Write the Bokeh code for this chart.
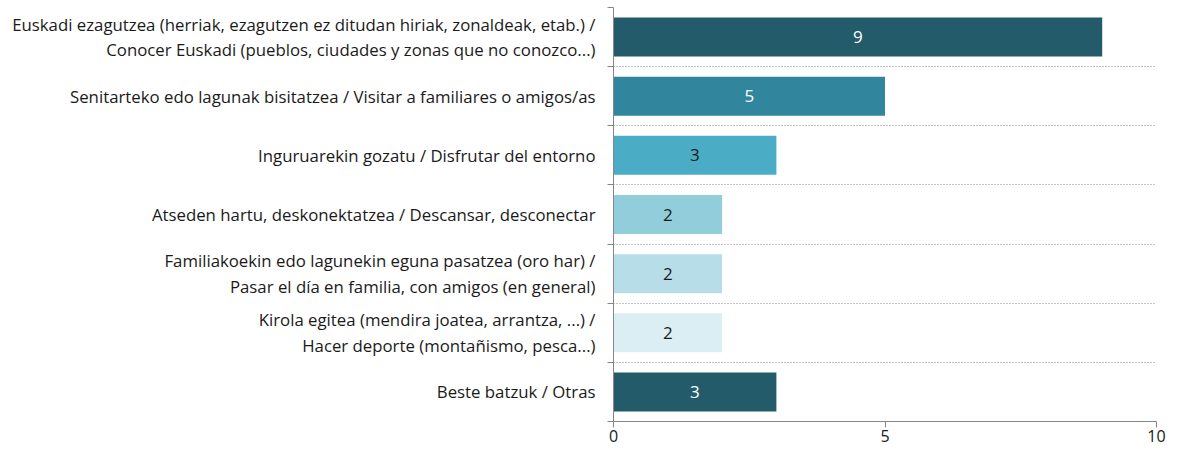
from bokeh.plotting import figure
from bokeh.models import ColumnDataSource, FixedTicker, Range1d
from bokeh.embed import file_html
from bokeh.resources import INLINE
from bokeh.core.properties import value

categories = [
    "Euskadi ezagutzea (herriak, ezagutzen ez ditudan hiriak, zonaldeak, etab.) /\nConocer Euskadi (pueblos, ciudades y zonas que no conozco...)",
    "Senitarteko edo lagunak bisitatzea / Visitar a familiares o amigos/as",
    "Inguruarekin gozatu / Disfrutar del entorno",
    "Atseden hartu, deskonektatzea / Descansar, desconectar",
    "Familiakoekin edo lagunekin eguna pasatzea (oro har) /\nPasar el día en familia, con amigos (en general)",
    "Kirola egitea (mendira joatea, arrantza, ...) /\nHacer deporte (montañismo, pesca...)",
    "Beste batzuk / Otras",
]
values = [9, 5, 3, 2, 2, 2, 3]
x_ticks = [0, 5, 10]

bar_colors = ["#235b6a", "#31859c", "#4bacc6", "#92cddc", "#b7dee8", "#daeef3", "#235b6a"]
label_colors = ["#ffffff", "#ffffff", "#1a1a1a", "#1a1a1a", "#1a1a1a", "#1a1a1a", "#ffffff"]

FONT = "Open Sans"
n = len(categories)
ypos = [n - 0.5 - i for i in range(n)]

src = ColumnDataSource(dict(
    y=ypos, v=values, half=[v / 2 for v in values],
    txt=[str(v) for v in values], color=bar_colors, tcolor=label_colors,
))

p = figure(width=1166, height=450, output_backend="svg", toolbar_location=None,
           x_range=Range1d(0, 10), y_range=Range1d(0, n),
           min_border_left=613, min_border_right=10, min_border_top=7, min_border_bottom=29)
p.outline_line_color = None
p.background_fill_color = "white"

p.hbar(y="y", right="v", left=0, height=0.66, fill_color="color", line_color=None, source=src)
p.text(x="half", y="y", text="txt", text_align="center", text_baseline="middle",
       text_color="tcolor", text_font=value(FONT), text_font_size="17px", source=src)

# y axis
yax = p.yaxis[0]
yax.ticker = FixedTicker(ticks=ypos, minor_ticks=list(range(n + 1)))
yax.major_label_overrides = {y: c for y, c in zip(ypos, categories)}
yax.major_tick_line_color = None
yax.major_tick_out = 0
yax.major_tick_in = 0
yax.minor_tick_out = 6
yax.minor_tick_in = 0
yax.minor_tick_line_color = "#868686"
yax.axis_line_color = "#868686"
yax.major_label_text_font = FONT
yax.major_label_text_font_size = "16.8px"
yax.major_label_text_line_height = 1.12
yax.major_label_text_color = "#1a1a1a"
yax.major_label_standoff = 12

# x axis
xax = p.xaxis[0]
xax.ticker = FixedTicker(ticks=x_ticks, minor_ticks=[])
xax.major_tick_out = 6
xax.major_tick_in = 0
xax.major_tick_line_color = "#868686"
xax.axis_line_color = "#868686"
xax.major_label_text_font = FONT
xax.major_label_text_font_size = "16px"
xax.major_label_text_color = "#1a1a1a"
xax.major_label_standoff = 2

p.xgrid.grid_line_color = None
p.ygrid.ticker = FixedTicker(ticks=list(range(1, n)))
p.ygrid.grid_line_color = "#8c8c8c"
p.ygrid.grid_line_dash = "1 2"
p.ygrid.grid_line_width = 1

open("out.html", "w").write(file_html(p, INLINE))
